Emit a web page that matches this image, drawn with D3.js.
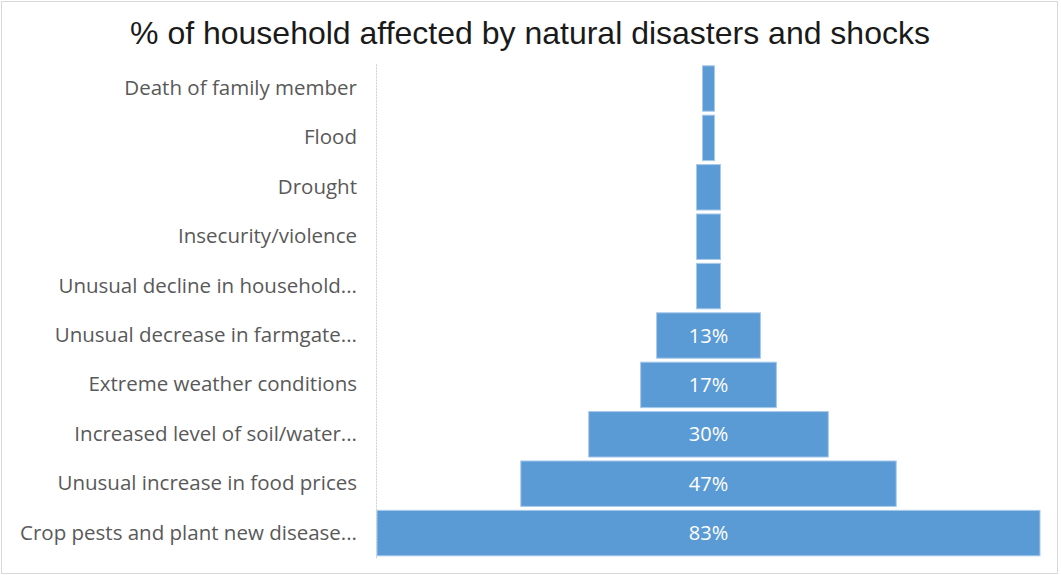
<!DOCTYPE html>
<html>
<head>
<meta charset="utf-8">
<script src="https://cdn.jsdelivr.net/npm/d3@7"></script>
<style>
  html, body { margin: 0; padding: 0; background: #fff; }
  svg { display: block; }
</style>
</head>
<body>
<svg id="chart" width="1061" height="575"></svg>
<script>
// Shocks reported by households, top of the funnel first
const categories = [
  "Death of family member",
  "Flood",
  "Drought",
  "Insecurity/violence",
  "Unusual decline in household...",
  "Unusual decrease in farmgate...",
  "Extreme weather conditions",
  "Increased level of soil/water...",
  "Unusual increase in food prices",
  "Crop pests and plant new disease..."
];
// Share of households affected (%)
const values = [1.5, 1.5, 3, 3, 3, 13, 17, 30, 47, 83];
const chartTitle = "% of household affected by natural disasters and shocks";

const W = 1061, H = 575;
const plot = { left: 377, right: 1040, top: 63.8, bottom: 557.8 };
const svg = d3.select("#chart");

// outer chart frame
svg.append("rect")
  .attr("x", 1.5).attr("y", 1.5)
  .attr("width", W - 5).attr("height", H - 3)
  .attr("fill", "#fff")
  .attr("stroke", "#d9d9d9").attr("stroke-width", 1);

svg.append("text")
  .attr("x", 530).attr("y", 44)
  .attr("text-anchor", "middle")
  .attr("font-family", "'Liberation Sans', Arial, sans-serif")
  .attr("font-size", 32)
  .attr("fill", "#1a1a1a")
  .text(chartTitle);

const x = d3.scaleLinear()
  .domain([0, d3.max(values)])
  .range([0, plot.right - plot.left]);
const cx = (plot.left + plot.right) / 2;

const y = d3.scaleBand()
  .domain(categories)
  .range([plot.top, plot.bottom])
  .paddingInner(0.08)
  .paddingOuter(0.04);

// category axis on the left
const yAxis = d3.axisLeft(y).tickSize(0).tickPadding(19);
const gy = svg.append("g")
  .attr("transform", `translate(${plot.left - 1},0)`)
  .call(yAxis);
gy.select(".domain")
  .attr("stroke", "#d0d0d0")
  .attr("stroke-dasharray", "2,1");
gy.selectAll("text")
  .attr("font-family", "'Open Sans', sans-serif")
  .attr("font-size", 20.5)
  .attr("fill", "#595959");

const rows = categories.map((c, i) => ({ cat: c, val: values[i] }));

// funnel bars, centred on the plot
svg.append("g").selectAll("rect")
  .data(rows)
  .join("rect")
  .attr("x", d => cx - x(d.val) / 2)
  .attr("y", d => y(d.cat))
  .attr("width", d => x(d.val))
  .attr("height", y.bandwidth())
  .attr("fill", "#5b9bd5")
  .attr("stroke", "#a8c9ea")
  .attr("stroke-width", 1);

// value labels where the bar is wide enough
svg.append("g").selectAll("text")
  .data(rows.filter(d => x(d.val) > 60))
  .join("text")
  .attr("x", cx)
  .attr("y", d => y(d.cat) + y.bandwidth() / 2)
  .attr("dy", "0.35em")
  .attr("text-anchor", "middle")
  .attr("font-family", "'Open Sans', sans-serif")
  .attr("font-size", 20)
  .attr("fill", "#fff")
  .text(d => Math.round(d.val) + "%");
</script>
</body>
</html>
